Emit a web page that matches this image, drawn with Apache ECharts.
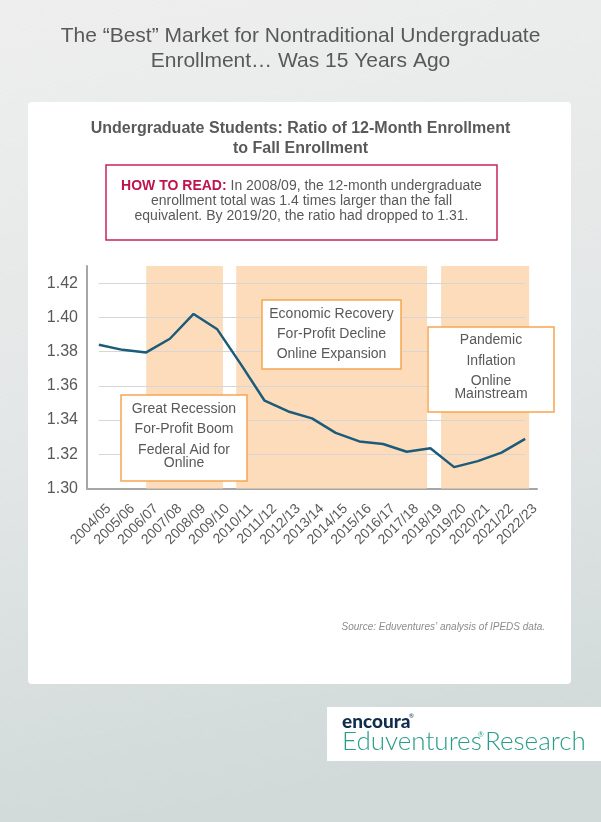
<!DOCTYPE html>
<html>
<head>
<meta charset="utf-8">
<script src="https://cdn.jsdelivr.net/npm/echarts@6/dist/echarts.min.js"></script>
<style>
html,body{margin:0;padding:0;width:601px;height:822px;overflow:hidden;}
#chart{width:601px;height:822px;}
</style>
</head>
<body>
<div id="chart"></div>
<script>
// ---- data ----
var categories = ['2004/05','2005/06','2006/07','2007/08','2008/09','2009/10','2010/11','2011/12','2012/13','2013/14','2014/15','2015/16','2016/17','2017/18','2018/19','2019/20','2020/21','2021/22','2022/23'];
var ratio = [1.384, 1.381, 1.3795, 1.3875, 1.402, 1.393, 1.3725, 1.3513, 1.345, 1.341, 1.3325, 1.3275, 1.326, 1.3215, 1.3235, 1.3125, 1.316, 1.321, 1.329];
var yTicks = [1.30, 1.32, 1.34, 1.36, 1.38, 1.40, 1.42];
// shaded periods, in category-index units (start, end)
var periods = [[2.0, 5.24], [5.8, 13.86], [14.45, 18.17]];
var periodNotes = [
  ['Great Recession', 'For-Profit Boom', 'Federal Aid for\nOnline'],
  ['Economic Recovery', 'For-Profit Decline', 'Online Expansion'],
  ['Pandemic', 'Inflation', 'Online\nMainstream']
];
var mainTitle = ['The \u201cBest\u201d Market for Nontraditional Undergraduate', 'Enrollment\u2026 Was 15 Years Ago'];
var chartTitle = ['Undergraduate Students: Ratio of 12-Month Enrollment', 'to Fall Enrollment'];
var howToRead = {
  head: 'HOW TO READ:',
  body: [' In 2008/09, the 12-month undergraduate', 'enrollment total was 1.4 times larger than the fall', 'equivalent. By 2019/20, the ratio had dropped to 1.31.']
};
var sourceNote = 'Source: Eduventures\u2019 analysis of IPEDS data.';
var logo = {brand:'encoura', name:'Eduventures', unit:'Research', reg:'\u00ae'};

// ---- layout ----
var FONT = '"Liberation Sans", Arial, sans-serif';
var LOGOFONT = 'Lato, "Noto Sans", sans-serif';
var GRAY = '#595959';
var ORANGE = '#f6a552';

var chart = echarts.init(document.getElementById('chart'), null, {renderer: 'canvas'});

var graphics = [];
// card
graphics.push({type:'rect', z:-10, shape:{x:28,y:102,width:543,height:582,r:4}, style:{fill:'#ffffff'}});
// logo box
graphics.push({type:'rect', z:-10, shape:{x:327,y:707,width:274,height:54}, style:{fill:'#ffffff'}});
graphics.push({type:'text', z:10, x:342, y:722, style:{text:logo.brand, font:'900 19px ' + LOGOFONT, fill:'#112d4e', textVerticalAlign:'middle'}});
graphics.push({type:'text', z:10, x:409, y:716, style:{text:logo.reg, font:'6px ' + LOGOFONT, fill:'#112d4e', textVerticalAlign:'middle'}});
graphics.push({type:'text', z:10, x:342, y:742, style:{text:logo.name, font:'300 26px ' + LOGOFONT, fill:'#2a9d8a', textVerticalAlign:'middle'}});
graphics.push({type:'text', z:10, x:478, y:735, style:{text:logo.reg, font:'7px ' + LOGOFONT, fill:'#2a9d8a', textVerticalAlign:'middle'}});
graphics.push({type:'text', z:10, x:485, y:742, style:{text:logo.unit, font:'300 26px ' + LOGOFONT, fill:'#2a9d8a', textVerticalAlign:'middle'}});

// main title
mainTitle.forEach(function(t, i){
  graphics.push({type:'text', z:10, x:300.5, y:36 + i*25, style:{text:t, font:'21px ' + FONT, fill:GRAY, textAlign:'center', textVerticalAlign:'middle'}});
});
// chart title
chartTitle.forEach(function(t, i){
  graphics.push({type:'text', z:10, x:300.5, y:129 + i*20, style:{text:t, font:'bold 16px ' + FONT, fill:GRAY, textAlign:'center', textVerticalAlign:'middle'}});
});
// how to read box
graphics.push({type:'rect', z:10, shape:{x:106,y:165,width:391,height:75}, style:{fill:'#ffffff', stroke:'#c7245a', lineWidth:1.5}});
graphics.push({type:'text', z:11, x:301.5, y:201, style:{
  text:'{h|' + howToRead.head + '}' + howToRead.body[0] + '\n' + howToRead.body[1] + '\n' + howToRead.body[2],
  font:'14px ' + FONT, fill:GRAY, textAlign:'center', textVerticalAlign:'middle', lineHeight:15,
  rich:{h:{font:'bold 14px ' + FONT, fill:'#c0124c', lineHeight:15}}
}});
// source
graphics.push({type:'text', z:10, x:545, y:627, style:{text:sourceNote, font:'italic 10px ' + FONT, fill:'#8c8c8c', textAlign:'right', textVerticalAlign:'middle'}});

// annotation boxes
var boxes = [
  {x:121, y:395, w:126, h:86, lines:[409, 429.5, 457]},
  {x:262, y:300, w:139, h:69, lines:[314, 334, 354]},
  {x:428, y:327, w:126, h:85, lines:[340, 361, 388]}
];
boxes.forEach(function(b, bi){
  graphics.push({type:'rect', z:20, shape:{x:b.x,y:b.y,width:b.w,height:b.h}, style:{fill:'#ffffff', stroke:ORANGE, lineWidth:1.5}});
  periodNotes[bi].forEach(function(t, li){
    graphics.push({type:'text', z:21, x:b.x + b.w/2, y:b.lines[li], style:{text:t, font:'14px ' + FONT, fill:GRAY, textAlign:'center', textVerticalAlign:'middle', lineHeight:13}});
  });
});

var gridLines = yTicks.slice(1).map(function(v){
  return [{coord:[0, v]}, {coord:[categories.length - 1, v]}];
});

var option = {
  backgroundColor: {type:'linear', x:0, y:0, x2:0.25, y2:1, colorStops:[{offset:0, color:'#eeeeee'},{offset:0.5,color:'#e4e7e7'},{offset:1, color:'#d1dad9'}]},
  animation: false,
  grid: {left:87, right:64, top:266, bottom:333.5, containLabel:false},
  xAxis: [
    {type:'category', data:categories, boundaryGap:true,
     axisLine:{show:true, onZero:false, lineStyle:{color:'#a6a6a6', width:2}},
     axisTick:{show:false},
     axisLabel:{rotate:45, interval:0, fontFamily:FONT, fontSize:14, color:GRAY, margin:8,
       verticalAlign:'top', padding:[7,0,0,0]},
     splitLine:{show:false}},
    {type:'value', min:-0.5, max:categories.length - 0.5, show:false}
  ],
  yAxis: {type:'value', min:1.30, max:1.43, interval:0.02,
    axisLine:{show:true, onZero:false, lineStyle:{color:'#a6a6a6', width:2}},
    axisTick:{show:false},
    axisLabel:{fontFamily:FONT, fontSize:16, color:GRAY, margin:9, showMaxLabel:false,
      formatter:function(v){ return v > 1.425 ? '' : v.toFixed(2); }},
    splitLine:{show:false}
  },
  graphic: graphics,
  series: [
    {type:'line', xAxisIndex:1, data:[], silent:true,
     markArea:{silent:true, z:1, itemStyle:{color:'#fddcbb'}, data: periods.map(function(p){ return [{xAxis:p[0]}, {xAxis:p[1]}]; })},
     markLine:{silent:true, z:2, symbol:['none','none'], label:{show:false}, lineStyle:{color:'#d6d6d6', width:1, type:'solid'}, data: gridLines}
    },
    {type:'line', xAxisIndex:0, data:ratio, z:5, showSymbol:false, symbol:'none',
     lineStyle:{color:'#1c5b7a', width:2.5}, itemStyle:{color:'#1c5b7a'}}
  ]
};
chart.setOption(option);
</script>
</body>
</html>
